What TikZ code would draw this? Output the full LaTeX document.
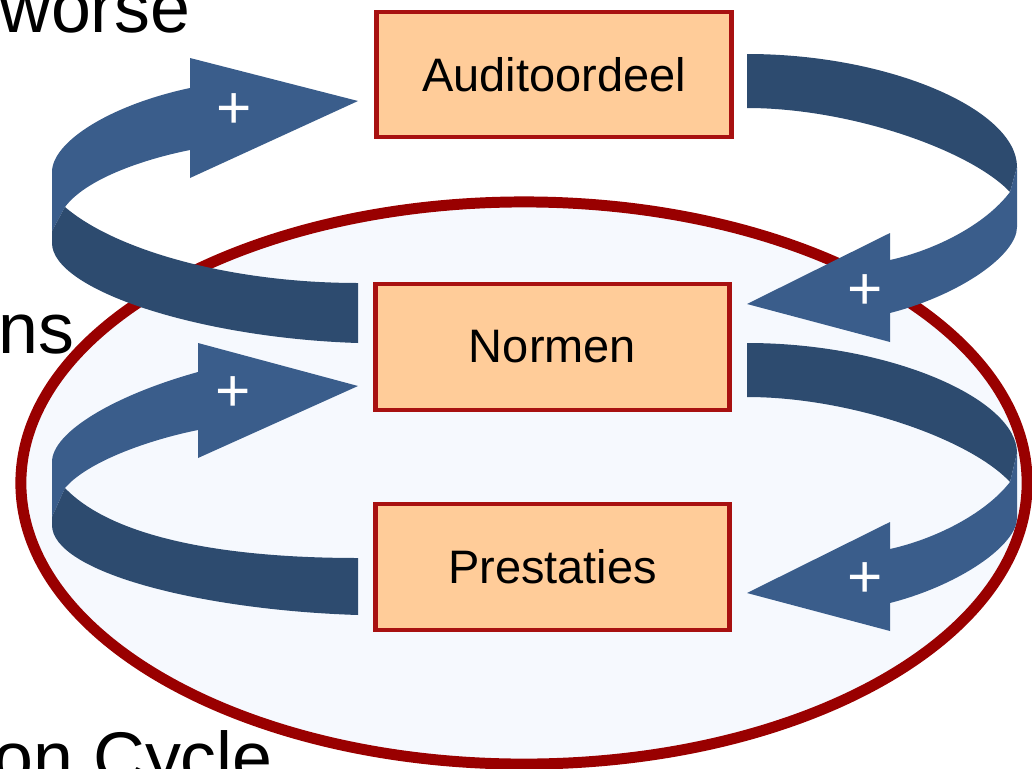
\documentclass[tikz,border=0pt]{standalone}
\usepackage{fontspec}
\setmainfont{Liberation Sans}
\definecolor{boxfill}{HTML}{FFCC99}
\definecolor{boxline}{HTML}{A81111}
\definecolor{ringline}{HTML}{990000}
\definecolor{ringfill}{HTML}{F6F9FE}
\definecolor{arrlight}{HTML}{3A5D8B}
\definecolor{arrdark}{HTML}{2D4B6F}
\begin{document}
\begin{tikzpicture}[x=0.025cm,y=-0.025cm,
  box/.style={draw=boxline,fill=boxfill,line width=3.5pt,inner sep=0pt,
    minimum width=8.85cm,minimum height=3.14cm,font=\fontsize{33.4}{40}\selectfont},
  plus/.style={text=white,inner sep=0pt,font=\fontsize{43}{50}\selectfont},
  edgetext/.style={inner sep=0pt,font=\fontsize{51}{60}\selectfont},
  light/.style={fill=arrlight},
  dark/.style={fill=arrdark}]
\useasboundingbox (0,0) rectangle (1032,769);
\clip (0,0) rectangle (1032,769);

% partial slide texts
\node[edgetext,anchor=base west] (t1) at (-1,32) {worse};
\node[edgetext,anchor=base east] (t2) at (75,353) {ns};
\node[edgetext,anchor=base east] (t3) at (273,782) {on Cycle};

% ring
\draw[draw=ringline,fill=ringfill,line width=7.8pt] (524,483) ellipse [x radius=12.575cm, y radius=7.025cm];

% top-left arrow
\fill[light] (52,231) -- (52,172) .. controls (52,142) and (110,105) .. (190,88)
  -- (190,58) -- (358,101) -- (190,178) -- (190,150)
  .. controls (140,160) and (85,180) .. (65,207) -- cycle;
\fill[dark] (65,207) .. controls (115,250) and (230,283) .. (358,283)
  -- (358,343) .. controls (200,338) and (52,290) .. (52,243) -- (52,231) -- cycle;

% bottom-left arrow
\fill[light] (52,517) -- (52,462) .. controls (52,432) and (115,395) .. (198,372)
  -- (198,343) -- (358,386) -- (198,458) -- (198,430)
  .. controls (148,440) and (87,462) .. (65,488) -- cycle;
\fill[dark] (65,488) .. controls (110,535) and (215,558) .. (358,558)
  -- (358,615) .. controls (200,610) and (52,572) .. (52,525) -- (52,517) -- cycle;

% top-right arrow
\fill[dark] (747,54) .. controls (890,54) and (1017,110) .. (1017,167)
  -- (1010,192) .. controls (970,150) and (850,108) .. (747,108) -- cycle;
\fill[light] (1017,167) -- (1017,227) .. controls (1017,255) and (960,295) .. (890,313)
  -- (890,342) -- (747,304) -- (890,233) -- (890,260)
  .. controls (935,250) and (985,225) .. (1010,192) -- cycle;

% bottom-right arrow
\fill[dark] (747,343) .. controls (890,343) and (1017,399) .. (1017,453)
  -- (1010,482) .. controls (970,439) and (850,397) .. (747,397) -- cycle;
\fill[light] (1017,453) -- (1017,518) .. controls (1017,545) and (960,585) .. (890,603)
  -- (890,631) -- (747,593) -- (890,522) -- (890,549)
  .. controls (935,539) and (985,514) .. (1010,482) -- cycle;

% boxes
\node[box,minimum width=8.85cm,minimum height=3.125cm] (aud) at (554,74.5) {Auditoordeel};
\node[box,minimum width=8.825cm,minimum height=3.15cm] (norm) at (552.5,347) {Normen};
\node[box,minimum width=8.825cm,minimum height=3.15cm] (prest) at (552.5,567) {Prestaties};

% plus signs
\node[plus] (p1) at (234,111.5) {+};
\node[plus] (p2) at (233,394.5) {+};
\node[plus] (p3) at (865,292.5) {+};
\node[plus] (p4) at (865,580.5) {+};
\end{tikzpicture}
\end{document}
